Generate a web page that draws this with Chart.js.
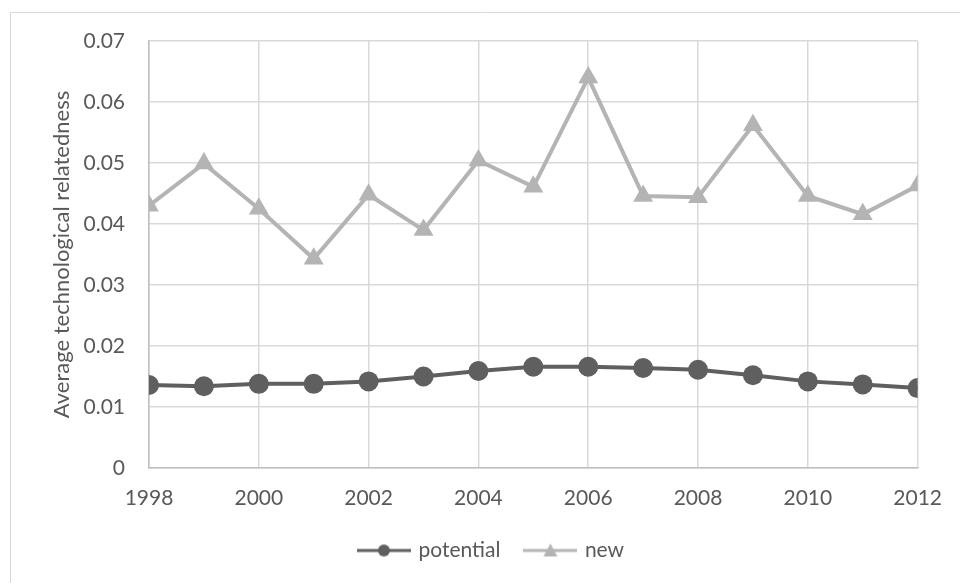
<!DOCTYPE html>
<html>
<head>
<meta charset="utf-8">
<script src="https://cdn.jsdelivr.net/npm/chart.js@4.4.1/dist/chart.umd.min.js"></script>
<style>
  html, body { margin: 0; padding: 0; background: #fff; }
  #wrap { width: 960px; height: 583px; }
</style>
</head>
<body>
<div id="wrap"><canvas id="myChart"></canvas></div>
<script>
// values
const years = [1998, 1999, 2000, 2001, 2002, 2003, 2004, 2005, 2006, 2007, 2008, 2009, 2010, 2011, 2012];
const potentialValues = [0.0136, 0.0134, 0.0138, 0.0138, 0.0142, 0.0150, 0.0159, 0.0166, 0.0166, 0.0164, 0.0161, 0.0152, 0.0142, 0.0137, 0.0131];
const newValues = [0.0430, 0.0499, 0.0425, 0.0343, 0.0448, 0.0390, 0.0504, 0.0461, 0.0640, 0.0446, 0.0444, 0.0562, 0.0446, 0.0416, 0.0463];
const yTicks = [0, 0.01, 0.02, 0.03, 0.04, 0.05, 0.06, 0.07];
const xTicks = [1998, 2000, 2002, 2004, 2006, 2008, 2010, 2012];

const darkGrey = "#5f5f5f";
const lightGrey = "#b4b4b4";
const textGrey = "#595959";
const fontFamily = "Lato, 'Open Sans', sans-serif";

function toPoints(vals) {
  return years.map(function (yr, i) {
    return { x: yr, y: vals[i] };
  });
}

// little line+marker picture for the legend
function legendIcon(color, style) {
  let c = document.createElement("canvas");
  c.width = 54;
  c.height = 16;
  let g = c.getContext("2d");
  g.strokeStyle = color;
  g.lineWidth = 3;
  g.beginPath();
  g.moveTo(0, 8);
  g.lineTo(54, 8);
  g.stroke();
  g.fillStyle = color;
  g.beginPath();
  if (style === "circle") {
    g.arc(27, 8, 6, 0, Math.PI * 2);
  } else {
    g.moveTo(27, 1);
    g.lineTo(34, 14);
    g.lineTo(20, 14);
    g.closePath();
  }
  g.fill();
  return c;
}

const frame = {
  id: "frame",
  beforeDraw: function (chart) {
    let ctx = chart.ctx;
    ctx.save();
    ctx.strokeStyle = "#d9d9d9";
    ctx.lineWidth = 1;
    ctx.beginPath();
    ctx.moveTo(10.5, 583);
    ctx.lineTo(10.5, 12.5);
    ctx.lineTo(960, 12.5);
    ctx.stroke();
    ctx.restore();
  },
};

var ctx = document.getElementById("myChart").getContext("2d");

var chart = new Chart(ctx, {
  type: "line",
  data: {
    datasets: [
      {
        label: "potential",
        data: toPoints(potentialValues),
        borderColor: darkGrey,
        backgroundColor: darkGrey,
        borderWidth: 4,
        pointStyle: "circle",
        pointRadius: 10,
        pointBorderWidth: 0,
        pointHoverRadius: 10,
      },
      {
        label: "new",
        data: toPoints(newValues),
        borderColor: lightGrey,
        backgroundColor: lightGrey,
        borderWidth: 4,
        pointStyle: "triangle",
        pointRadius: 11.5,
        pointBorderWidth: 0,
        pointHoverRadius: 11.5,
      },
    ],
  },
  options: {
    responsive: true,
    maintainAspectRatio: false,
    animation: false,
    layout: { padding: { left: 49, top: 41, right: 25, bottom: 12 } },
    scales: {
      x: {
        type: "linear",
        min: 1998,
        max: 2012,
        afterBuildTicks: function (scale) {
          scale.ticks = xTicks.map(function (v) { return { value: v }; });
        },
        afterFit: function (scale) { scale.height = 46; },
        grid: { color: "#d9d9d9", lineWidth: 1.5, drawTicks: false },
        border: { color: "#bfbfbf", width: 1.5 },
        ticks: {
          padding: 18,
          color: textGrey,
          font: { family: fontFamily, size: 21 },
          callback: function (v) { return String(v); },
        },
      },
      y: {
        min: 0,
        max: 0.07,
        afterBuildTicks: function (scale) {
          scale.ticks = yTicks.map(function (v) { return { value: v }; });
        },
        afterFit: function (scale) { scale.width = 100; },
        grid: { color: "#d9d9d9", lineWidth: 1.5, drawTicks: false },
        border: { color: "#bfbfbf", width: 1.5 },
        ticks: {
          padding: 24,
          color: textGrey,
          font: { family: fontFamily, size: 21 },
          callback: function (v) { return v === 0 ? "0" : v.toFixed(2); },
        },
        title: {
          display: true,
          text: "Average technological relatedness",
          color: textGrey,
          font: { family: fontFamily, size: 22 },
          padding: { top: 0, bottom: 0 },
        },
      },
    },
    plugins: {
      tooltip: { enabled: false },
      legend: {
        position: "bottom",
        labels: {
          usePointStyle: true,
          pointStyleWidth: 48,
          padding: 26,
          color: textGrey,
          font: { family: fontFamily, size: 21 },
          generateLabels: function (ch) {
            let items = Chart.defaults.plugins.legend.labels.generateLabels(ch);
            items.forEach(function (it, i) {
              it.pointStyle = legendIcon(i === 0 ? darkGrey : lightGrey, i === 0 ? "circle" : "triangle");
            });
            return items;
          },
        },
      },
    },
  },
  plugins: [frame],
});
</script>
</body>
</html>
